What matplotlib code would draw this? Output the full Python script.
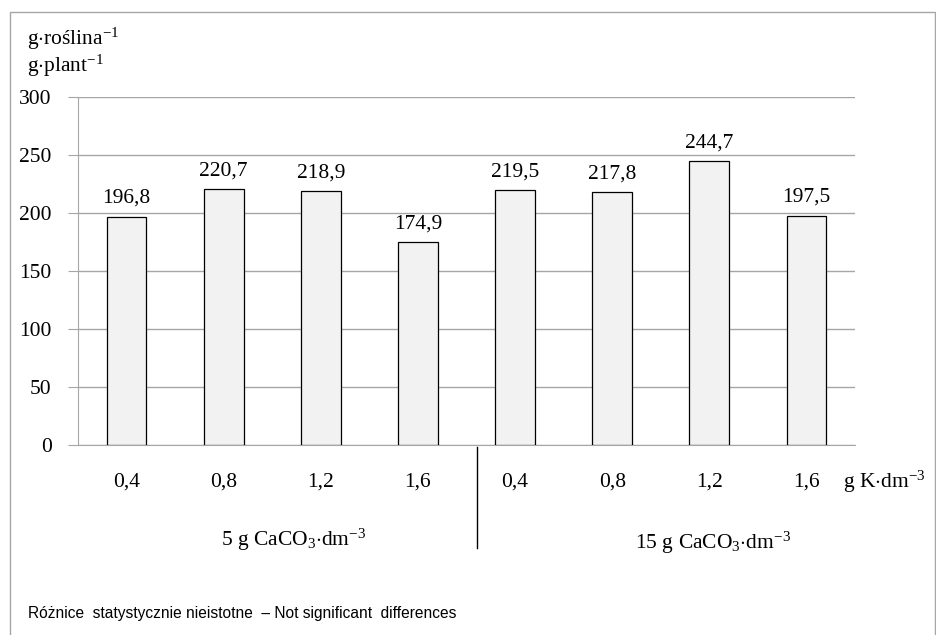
import matplotlib
matplotlib.use('Agg')
from matplotlib import pyplot as plt
from matplotlib.patches import Rectangle
import numpy as np

plt.rcParams['font.family'] = ['Liberation Serif', 'DejaVu Serif']
plt.rcParams['mathtext.fontset'] = 'custom'
plt.rcParams['mathtext.rm'] = 'Liberation Serif'
plt.rcParams['mathtext.it'] = 'Liberation Serif:italic'

k_doses = ['0,4', '0,8', '1,2', '1,6', '0,4', '0,8', '1,2', '1,6']
yields = [196.8, 220.7, 218.9, 174.9, 219.5, 217.8, 244.7, 197.5]
value_labels = ['196,8', '220,7', '218,9', '174,9', '219,5', '217,8', '244,7', '197,5']
groups = [r'5 g CaCO$_3$$\cdot$dm$^{-3}$', r'15 g CaCO$_3$$\cdot$dm$^{-3}$']

W, H = 936, 635
FS = 15.5
fig = plt.figure(figsize=(W / 100, H / 100), dpi=100)
ax = fig.add_axes([78 / W, (H - 445) / H, 777 / W, 348 / H])

x = np.arange(len(yields))
ax.bar(x, yields, width=0.41, color='#f2f2f2', edgecolor='black', linewidth=0.9, zorder=3)
for xi, v, s in zip(x, yields, value_labels):
    ax.annotate(s, (xi, v), xytext=(0, 10), textcoords='offset points',
                ha='center', va='baseline', fontsize=FS)

ax.set_xlim(-0.5, len(yields) - 0.5)
ax.set_ylim(0, 300)
ax.set_yticks(np.arange(0, 301, 50))
ax.yaxis.grid(True, color='#a6a6a6', linewidth=1.0, zorder=0)
ax.set_xticks(x)
ax.set_xticklabels(k_doses)
ax.tick_params(axis='x', length=0, pad=20, labelsize=FS)
ax.tick_params(axis='y', length=7, color='#a6a6a6', pad=12, labelsize=FS)
for side in ['top', 'right']:
    ax.spines[side].set_visible(False)
for side in ['left', 'bottom']:
    ax.spines[side].set_color('#a6a6a6')

# frame round the whole chart
fig.add_artist(Rectangle((10 / W, -0.05), 925 / W, 1 - 12 / H + 0.05,
                         transform=fig.transFigure, fill=False,
                         edgecolor='#a6a6a6', linewidth=1.0))

# separator between the two CaCO3 groups
fig.add_artist(plt.Line2D([477 / W, 477 / W], [(H - 447) / H, (H - 548) / H],
                          color='black', linewidth=1.0))

fig.text(843 / W, (H - 488) / H, r'g K$\cdot$dm$^{-3}$', fontsize=FS, va='baseline')
fig.text(294 / W, (H - 546) / H, groups[0], fontsize=FS, ha='center', va='baseline')
fig.text(713 / W, (H - 549) / H, groups[1], fontsize=FS, ha='center', va='baseline')
fig.text(27 / W, (H - 45) / H, r'g$\cdot$roślina$^{-1}$', fontsize=FS, va='baseline')
fig.text(27 / W, (H - 72) / H, r'g$\cdot$plant$^{-1}$', fontsize=FS, va='baseline')
fig.text(28 / W, (H - 618) / H, 'Różnice  statystycznie nieistotne  – Not significant  differences',
         fontsize=11.2, va='baseline', family=['Liberation Sans Narrow', 'Liberation Sans', 'DejaVu Sans'])

fig.savefig('out.png', dpi=100)
